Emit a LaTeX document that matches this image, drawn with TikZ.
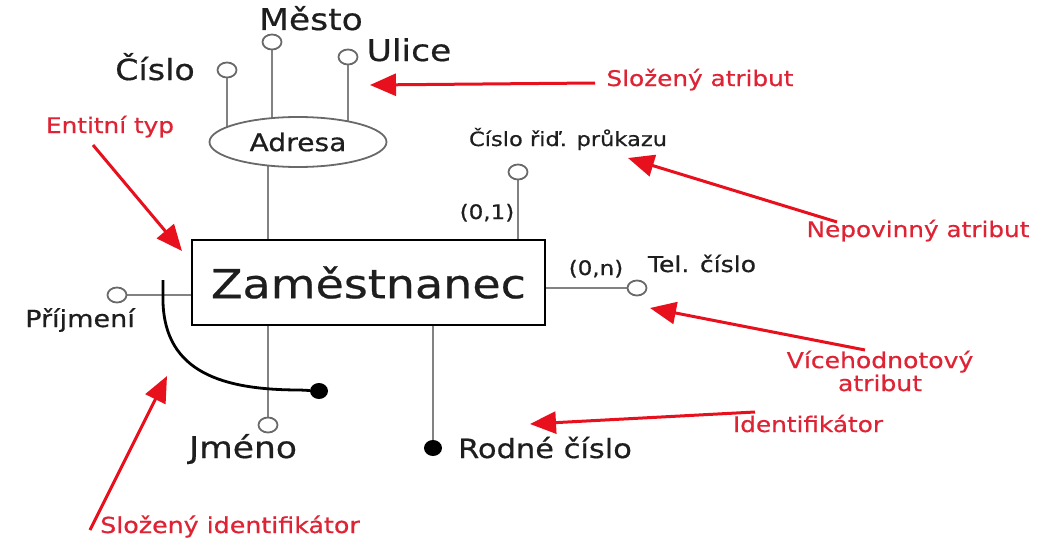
\documentclass[tikz,border=0pt]{standalone}
\usepackage{fontspec}
\setmainfont[FakeStretch=1.15,FakeBold=0.6]{DejaVu Sans}
\usetikzlibrary{arrows.meta,shapes.geometric,backgrounds}
\definecolor{redA}{RGB}{232,16,28}
\definecolor{redT}{RGB}{222,36,52}
\definecolor{lineG}{RGB}{130,130,130}
\definecolor{circG}{RGB}{105,105,105}
\definecolor{txt}{RGB}{30,30,30}
\newcommand{\fs}[1]{\fontsize{#1}{#1}\selectfont}
\newcommand{\fsvh}{\fontsize{21.8}{23}\selectfont}
\begin{document}
\begin{tikzpicture}[x=1pt,y=-1pt,
  conn/.style={draw=lineG, line width=2.2pt},
  oattr/.style={ellipse, draw=circG, line width=1.8pt, fill=white, minimum width=19pt, minimum height=15pt, inner sep=0pt},
  idattr/.style={ellipse, fill=black, minimum width=18pt, minimum height=16pt, inner sep=0pt},
  entity/.style={draw=black, line width=2.4pt, fill=white, minimum width=353pt, minimum height=85pt, inner sep=0pt, text=txt, font=\fs{40}},
  compattr/.style={ellipse, draw=circG, line width=1.8pt, fill=white, minimum width=177pt, minimum height=50pt, inner sep=0pt, text=txt, font=\fs{24.5}},
  lbl/.style={text=txt, inner sep=0pt, anchor=base},
  note/.style={text=redT, inner sep=0pt, anchor=base, font=\fs{21.5}},
  redarrow/.style={draw=redA, line width=3pt, -{Triangle[length=26pt,width=22pt]}}]
\useasboundingbox (0,0) rectangle (1053,538);

% entity and composite attribute
\node[entity] (emp) at (368.5,282.5) {Zaměstnanec};
\node[compattr] (adresa) at (298,142) {Adresa};

% attribute circles
\node[oattr] (cisloC) at (227,70) {};
\node[oattr] (mestoC) at (272,42) {};
\node[oattr] (uliceC) at (348,57) {};
\node[oattr] (ridC) at (518,172) {};
\node[oattr] (telC) at (637,288) {};
\node[oattr] (prijC) at (117,295) {};
\node[oattr] (jmenoC) at (268,425) {};
\node[idattr] (rcD) at (433,448) {};
\node[idattr] (slozD) at (319,391) {};
\coordinate (cstart) at (163,280);

% connectors
\begin{scope}[on background layer]
\draw[conn] (cisloC) -- (cisloC |- adresa.center);
\draw[conn] (mestoC) -- (mestoC |- adresa.center);
\draw[conn] (uliceC) -- (uliceC |- adresa.center);
\draw[conn] (jmenoC |- adresa.center) -- (jmenoC |- emp.north);
\draw[conn] (ridC) -- (ridC |- emp.north);
\draw[conn] (telC) -- (telC -| emp.east);
\draw[conn] (prijC) -- (prijC -| emp.west);
\draw[conn] (jmenoC) -- (jmenoC |- emp.south);
\draw[conn] (rcD) -- (rcD |- emp.south);
\draw[black, line width=2.8pt] (cstart) -- (163,302) .. controls (165,372) and (222,390) .. (300,390) -- (slozD);
\end{scope}

% labels
\node[lbl, font=\fs{29}] (cisloL) at (155,80) {Číslo};
\node[lbl, font=\fs{30}] (mestoL) at (311,30) {Město};
\node[lbl, font=\fs{30}] (uliceL) at (409,61) {Ulice};
\node[lbl, font=\fs{19.6}] (ridL) at (568,146) {Číslo řiď. průkazu};
\node[lbl, font=\fs{20}] (card1) at (487,219) {(0,1)};
\node[lbl, font=\fs{20}] (cardn) at (596,275) {(0,n)};
\node[lbl, font=\fs{21.8}] (telL) at (702,272) {Tel. číslo};
\node[lbl, font=\fs{23.5}] (prijL) at (80,327) {Příjmení};
\node[lbl, font=\fs{30}] (jmenoL) at (243,458) {Jméno};
\node[lbl, font=\fs{26.5}] (rcL) at (545,458) {Rodné číslo};

% red notes
\node[note] (nSA) at (700,86) {Složený atribut};
\node[note] (nET) at (110,133) {Entitní typ};
\node[note] (nNA) at (918,237) {Nepovinný atribut};
\node[note, anchor=center, align=center, font=\fsvh] (nVA) at (880,371) {Vícehodnotový\\atribut};
\node[note] (nID) at (808,432) {Identifikátor};
\node[note, font=\fs{22}] (nSI) at (230,533) {Složený identifikátor};

\coordinate (sA1) at (595,83);  \coordinate (tA1) at (370,85);
\coordinate (sA2) at (93,145);  \coordinate (tA2) at (182,251);
\coordinate (sA3) at (837,222); \coordinate (tA3) at (628,158);
\coordinate (sA4) at (865,350); \coordinate (tA4) at (650,308);
\coordinate (sA5) at (755,412); \coordinate (tA5) at (530,424);
\coordinate (sA6) at (90,530);  \coordinate (tA6) at (167,376);
\draw[redarrow] (sA1) -- (tA1);
\draw[redarrow] (sA2) -- (tA2);
\draw[redarrow] (sA3) -- (tA3);
\draw[redarrow] (sA4) -- (tA4);
\draw[redarrow] (sA5) -- (tA5);
\draw[redarrow] (sA6) -- (tA6);
\end{tikzpicture}
\end{document}
